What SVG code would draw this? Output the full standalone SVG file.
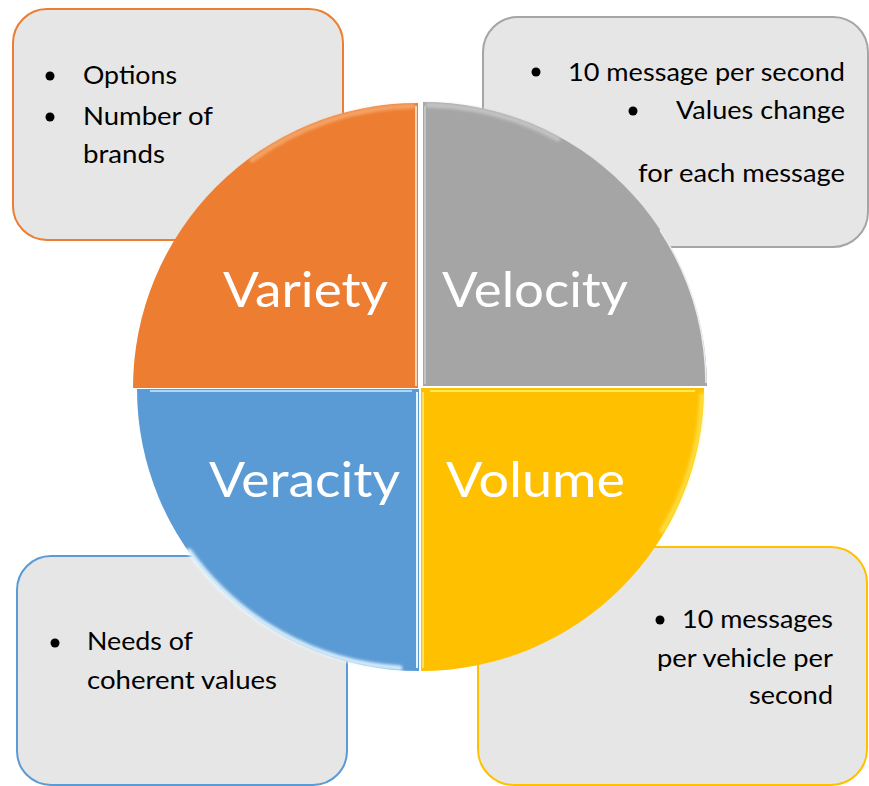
<svg xmlns="http://www.w3.org/2000/svg" width="869" height="786" viewBox="0 0 869 786">
  <defs>
    <filter id="soft" x="-10%" y="-10%" width="120%" height="120%">
      <feGaussianBlur stdDeviation="1.6"/>
    </filter>
    <style>
      .box { fill: #E6E6E6; stroke-width: 2; }
      .txt { font-family: Lato, "Open Sans", sans-serif; font-size: 25px; fill: #000; }
      .big { font-family: Lato, "Open Sans", sans-serif; font-size: 49px; fill: #FFFFFF; }
      .hl { fill: none; stroke-width: 5; stroke-linecap: round; filter: url(#soft); }
      .bul { fill: #000; }
    </style>
  </defs>

  <g id="box-variety">
    <rect class="box" x="13" y="9" width="330" height="231" rx="34" stroke="#ED7D31"/>
    <circle class="bul" cx="50" cy="76" r="4.5"/>
    <text class="txt" x="83" y="84" textLength="94" lengthAdjust="spacingAndGlyphs">Options</text>
    <circle class="bul" cx="50" cy="117" r="4.5"/>
    <text class="txt" x="83" y="125" textLength="130" lengthAdjust="spacingAndGlyphs">Number of</text>
    <text class="txt" x="83" y="163" textLength="82" lengthAdjust="spacingAndGlyphs">brands</text>
  </g>

  <g id="box-velocity">
    <rect class="box" x="483" y="17" width="385" height="230" rx="35" stroke="#A5A5A5"/>
    <circle class="bul" cx="536" cy="72" r="4.5"/>
    <text class="txt" x="568" y="81" textLength="277" lengthAdjust="spacingAndGlyphs">10 message per second</text>
    <circle class="bul" cx="633" cy="111" r="4.5"/>
    <text class="txt" x="676" y="119" textLength="169" lengthAdjust="spacingAndGlyphs">Values change</text>
    <text class="txt" x="638" y="182" textLength="207" lengthAdjust="spacingAndGlyphs">for each message</text>
  </g>

  <g id="box-veracity">
    <rect class="box" x="17" y="556" width="330" height="229" rx="34" stroke="#5B9BD5"/>
    <circle class="bul" cx="55" cy="643" r="4.5"/>
    <text class="txt" x="87" y="650" textLength="106" lengthAdjust="spacingAndGlyphs">Needs of</text>
    <text class="txt" x="87" y="689" textLength="190" lengthAdjust="spacingAndGlyphs">coherent values</text>
  </g>

  <g id="box-volume">
    <rect class="box" x="478" y="547" width="389" height="238" rx="36" stroke="#FFC000"/>
    <circle class="bul" cx="660" cy="620" r="4.5"/>
    <text class="txt" x="682" y="628" textLength="151" lengthAdjust="spacingAndGlyphs">10 messages</text>
    <text class="txt" x="657" y="667" textLength="176" lengthAdjust="spacingAndGlyphs">per vehicle per</text>
    <text class="txt" x="749" y="704" textLength="84" lengthAdjust="spacingAndGlyphs">second</text>
  </g>

  <g id="quadrant-variety">
    <path d="M418,388 L133,388 A285,285 0 0 1 418,103 Z" fill="#ED7D31"/>
    <path class="hl" d="M252,160 A282,282 0 0 1 413,106" stroke="#F9BE8C" opacity="0.6"/>
    <line x1="416" y1="106" x2="416" y2="386" stroke="#FBD3B0" stroke-width="2"/>
    <text class="big" x="223" y="307" textLength="165" lengthAdjust="spacingAndGlyphs">Variety</text>
  </g>

  <g id="quadrant-velocity">
    <path d="M423,386 L423,102 A284,284 0 0 1 707,386 Z" fill="#A5A5A5"/>
    <path class="hl" d="M428,105 A281,281 0 0 1 558,139" stroke="#D4D4D4" opacity="0.65"/>
    <line x1="425" y1="106" x2="425" y2="384" stroke="#C4C4C4" stroke-width="2"/>
    <path d="M706,383 A283,283 0 0 0 660,230" fill="none" stroke="#E8EEF4" stroke-width="1.5"/>
    <text class="big" x="442" y="307" textLength="186" lengthAdjust="spacingAndGlyphs">Velocity</text>
  </g>

  <g id="quadrant-veracity">
    <path d="M419,389 L419,671 A282,282 0 0 1 137,389 Z" fill="#5B9BD5"/>
    <path class="hl" d="M189,551 A280,280 0 0 0 400,668" stroke="#E8F8FF" opacity="0.9"/>
    <line x1="150" y1="391" x2="412" y2="391" stroke="#A9DAFA" stroke-width="2"/>
    <line x1="417" y1="392" x2="417" y2="668" stroke="#E6F7FF" stroke-width="2"/>
    <text class="big" x="209" y="497" textLength="191" lengthAdjust="spacingAndGlyphs">Veracity</text>
  </g>

  <g id="quadrant-volume">
    <path d="M421,388 L704,388 A283,283 0 0 1 421,671 Z" fill="#FFC000"/>
    <path class="hl" d="M702,395 A281,281 0 0 1 662,531" stroke="#FFF066" opacity="0.6"/>
    <line x1="430" y1="391" x2="695" y2="391" stroke="#FFEB55" stroke-width="2"/>
    <line x1="423" y1="392" x2="423" y2="668" stroke="#FFE066" stroke-width="2"/>
    <text class="big" x="446" y="497" textLength="179" lengthAdjust="spacingAndGlyphs">Volume</text>
  </g>

  <g id="connectors"></g>
</svg>
